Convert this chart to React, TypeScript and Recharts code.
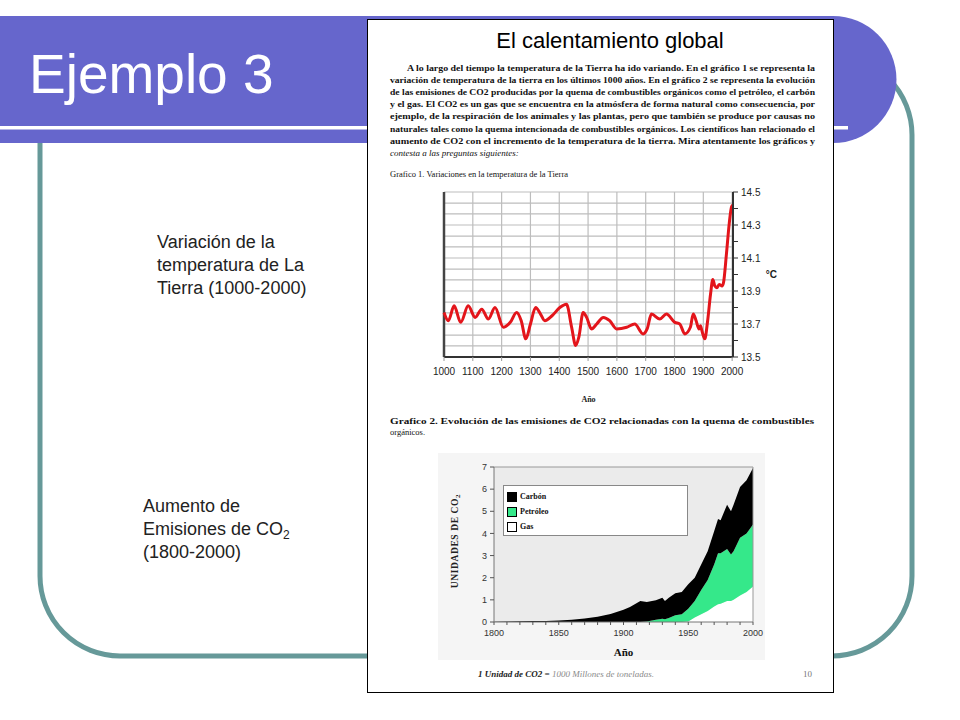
import {
  Area,
  AreaChart,
  CartesianGrid,
  Legend,
  Line,
  LineChart,
  ReferenceLine,
  XAxis,
  YAxis,
} from 'recharts'

// Gráfico 1: temperatura media (°C), 1000-2000
const TEMP_YEARS = [
  1000, 1015, 1035, 1058, 1084, 1108, 1131, 1154, 1177, 1206, 1230, 1252, 1268, 1284, 1300, 1318,
  1335, 1350, 1375, 1402, 1425, 1443, 1457, 1468, 1483, 1495, 1512, 1530, 1553, 1575, 1599, 1634,
  1662, 1691, 1705, 1720, 1749, 1772, 1801, 1818, 1836, 1855, 1865, 1875, 1885, 1890, 1895, 1905,
  1915, 1925, 1933, 1940, 1947, 1955, 1965, 1970, 1980, 1990, 1998, 2002,
]
const TEMP_VALUES = [
  13.77, 13.72, 13.81, 13.71, 13.81, 13.74, 13.79, 13.73, 13.8, 13.68, 13.71, 13.77, 13.72, 13.61,
  13.7, 13.8, 13.76, 13.72, 13.75, 13.8, 13.82, 13.68, 13.57, 13.62, 13.77, 13.74, 13.67, 13.7,
  13.74, 13.72, 13.67, 13.68, 13.7, 13.64, 13.67, 13.76, 13.73, 13.76, 13.71, 13.7, 13.64, 13.68,
  13.76, 13.72, 13.67, 13.69, 13.66, 13.61, 13.72, 13.88, 13.97, 13.93, 13.92, 13.94, 13.93, 13.95,
  14.12, 14.31, 14.41, 14.42,
]
const TEMP_X_TICKS = [1000, 1100, 1200, 1300, 1400, 1500, 1600, 1700, 1800, 1900, 2000]
const TEMP_Y_TICKS = [13.5, 13.6, 13.7, 13.8, 13.9, 14.0, 14.1, 14.2, 14.3, 14.4, 14.5]
const TEMP_GRID = [
  13.5, 13.567, 13.633, 13.7, 13.767, 13.833, 13.9, 13.967, 14.033, 14.1, 14.167, 14.233, 14.3,
  14.367, 14.433, 14.5,
]

// Gráfico 2: emisiones de CO2 por combustible (unidades = 1000 Mt)
const CO2_YEARS = [
  1800, 1810, 1820, 1830, 1840, 1850, 1860, 1870, 1880, 1890, 1900, 1905, 1910, 1913, 1918, 1920,
  1925, 1930, 1932, 1935, 1940, 1945, 1950, 1955, 1960, 1965, 1970, 1973, 1975, 1980, 1983, 1985,
  1990, 1995, 2000,
]
const CO2_CARBON = [
  0.01, 0.02, 0.03, 0.04, 0.05, 0.07, 0.1, 0.16, 0.24, 0.36, 0.55, 0.68, 0.85, 0.95, 0.88, 0.88,
  0.88, 0.95, 0.83, 0.92, 1.0, 1.0, 1.1, 1.05, 1.15, 1.3, 1.5, 1.55, 1.5, 2.0, 1.95, 2.1, 2.3, 2.4,
  2.55,
]
const CO2_PETROLEO = [
  0, 0, 0, 0, 0, 0, 0, 0, 0, 0, 0, 0, 0, 0, 0.02, 0.05, 0.1, 0.15, 0.12, 0.18, 0.3, 0.35, 0.58, 0.75,
  1.1, 1.4, 1.9, 2.3, 2.28, 2.35, 2.1, 2.2, 2.6, 2.65, 2.8,
]
const CO2_GAS = [
  0, 0, 0, 0, 0, 0, 0, 0, 0, 0, 0, 0, 0, 0, 0, 0, 0, 0, 0, 0, 0, 0, 0.02, 0.2, 0.35, 0.5, 0.7, 0.8,
  0.82, 0.95, 0.95, 1.0, 1.2, 1.35, 1.6,
]
const CO2_X_TICKS = [
  1800, 1810, 1820, 1830, 1840, 1850, 1860, 1870, 1880, 1890, 1900, 1910, 1920, 1930, 1940, 1950,
  1960, 1970, 1980, 1990, 2000,
]
const CO2_Y_TICKS = [0, 1, 2, 3, 4, 5, 6, 7]
const CO2_LEGEND = [
  { name: 'Carbón', color: '#000000' },
  { name: 'Petróleo', color: '#35e88a' },
  { name: 'Gas', color: '#ffffff' },
]

const BLUE = '#6666cc'
const TEAL = '#669999'
const SERIF = '"Liberation Serif", "DejaVu Serif", serif'
const SANS = '"Liberation Sans", Arial, sans-serif'

const BODY_LINES = [
  'A lo largo del tiempo la temperatura de la Tierra ha ido variando. En el gráfico 1 se representa la',
  'variación de temperatura de la tierra en los últimos 1000 años. En el gráfico 2 se representa la evolución',
  'de las emisiones de CO2 producidas por la quema de combustibles orgánicos como el petróleo, el carbón',
  'y el gas. El CO2 es un gas que se encuentra en la atmósfera de forma natural como consecuencia, por',
  'ejemplo, de la respiración de los animales y las plantas, pero que también se produce por causas no',
  'naturales tales como la quema intencionada de combustibles orgánicos. Los científicos han relacionado el',
  'aumento de CO2 con el incremento de la temperatura de la tierra. Mira atentamente los gráficos y',
]
const BODY_LAST = 'contesta a las preguntas siguientes:'

const tempData = TEMP_YEARS.map((year, i) => ({ year, temp: TEMP_VALUES[i] }))
const co2Data = CO2_YEARS.map((year, i) => ({
  year,
  gas: CO2_GAS[i],
  petroleo: CO2_PETROLEO[i],
  carbon: CO2_CARBON[i],
}))

function Co2Legend() {
  return (
    <div
      style={{
        width: 185,
        height: 51,
        background: '#fff',
        border: '1px solid #888',
        boxSizing: 'border-box',
        padding: '3px 0 0 3px',
        fontFamily: SERIF,
        fontWeight: 'bold',
        fontSize: 8,
        color: '#111',
      }}
    >
      {CO2_LEGEND.map((item) => (
        <div key={item.name} style={{ display: 'flex', alignItems: 'center', height: 15 }}>
          <span
            style={{
              width: 8,
              height: 8,
              background: item.color,
              border: '1px solid #000',
              marginRight: 3,
            }}
          />
          {item.name}
        </div>
      ))}
    </div>
  )
}

export default function App() {
  return (
    <div style={{ position: 'absolute', left: 0, top: 0, width: 960, height: 720, background: '#fff' }}>
      <svg width={960} height={720} style={{ position: 'absolute', left: 0, top: 0 }}>
        <rect x={40} y={55} width={872} height={601} rx={80} fill="none" stroke={TEAL} strokeWidth={5} />
        <path d="M0 16 H833 A63.5 63.5 0 0 1 833 143 H0 Z" fill={BLUE} />
        <rect x={0} y={126} width={848} height={3.5} fill="#fff" />
        <text x={29} y={93} fontSize={55} fill="#fff" fontFamily={SANS}>
          Ejemplo 3
        </text>

        <text fontFamily={SANS} fontSize={18} fill="#222">
          <tspan x={157} y={248}>Variación de la</tspan>
          <tspan x={157} y={271}>temperatura de La</tspan>
          <tspan x={157} y={294}>Tierra (1000-2000)</tspan>
          <tspan x={143} y={512}>Aumento de</tspan>
          <tspan x={143} y={535}>Emisiones de CO</tspan>
          <tspan fontSize={12} dy={4}>2</tspan>
          <tspan x={143} y={558}>(1800-2000)</tspan>
        </text>

        <rect x={367.5} y={19.5} width={466} height={673} fill="#fff" stroke="#000" />
        <text x={610} y={48} fontSize={22} fill="#000" fontFamily={SANS} textAnchor="middle">
          El calentamiento global
        </text>
        <g fontFamily={SERIF} fontSize={9} fontWeight="bold" fill="#111">
          {BODY_LINES.map((line, i) => (
            <text
              key={i}
              x={i === 0 ? 407 : 390}
              y={71 + i * 12.1}
              textLength={i === 0 ? 408 : 425}
              lengthAdjust="spacingAndGlyphs"
            >
              {line}
            </text>
          ))}
          <text x={390} y={156} fontStyle="italic" fontWeight="normal">
            {BODY_LAST}
          </text>
        </g>
        <g fontFamily={SERIF} fontSize={8.5} fill="#111">
          <text x={390} y={177}>Grafico 1. Variaciones en la temperatura de la Tierra</text>
          <text x={390} y={424} fontWeight="bold" textLength={424} lengthAdjust="spacingAndGlyphs">
            Grafico 2. Evolución de las emisiones de CO2 relacionadas con la quema de combustibles
          </text>
          <text x={390} y={435}>orgánicos.</text>
        </g>

        <rect x={438} y={453} width={327} height={207} fill="#f5f5f5" />
        <text
          x={458}
          y={541}
          transform="rotate(-90 458 541)"
          textAnchor="middle"
          fontFamily={SERIF}
          fontSize={9.5}
          fontWeight="bold"
          fill="#222"
          letterSpacing={0.6}
        >
          UNIDADES DE CO
          <tspan fontSize={7} dy={2}>2</tspan>
        </text>

        <text x={478} y={677} fontFamily={SERIF} fontSize={9} fontStyle="italic">
          <tspan fontWeight="bold" fill="#222">1 Unidad de CO2 = </tspan>
          <tspan fill="#8a8a8a">1000 Millones de toneladas.</tspan>
        </text>
        <text x={803} y={677} fontFamily={SERIF} fontSize={9} fill="#777">
          10
        </text>
      </svg>

      <div style={{ position: 'absolute', left: 380, top: 180 }}>
        <LineChart width={420} height={235} data={tempData} margin={{ top: 12, right: 17, left: 64, bottom: 13 }}>
          <CartesianGrid
            stroke="#bdbdbd"
            strokeWidth={1.2}
            horizontalValues={TEMP_GRID}
            verticalValues={TEMP_X_TICKS}
          />
          <XAxis
            type="number"
            dataKey="year"
            domain={[1000, 2003]}
            ticks={TEMP_X_TICKS}
            interval={0}
            height={45}
            tickMargin={7}
            tickSize={4}
            axisLine={{ stroke: '#333', strokeWidth: 2 }}
            tickLine={{ stroke: '#999' }}
            tick={{ fontSize: 10, fill: '#222', fontFamily: SANS }}
            label={{ value: 'Año', position: 'insideBottom', offset: 0, fontSize: 8, fontWeight: 'bold', fontFamily: SERIF, fill: '#222' }}
          />
          <YAxis
            orientation="right"
            type="number"
            domain={[13.5, 14.5]}
            ticks={TEMP_Y_TICKS}
            interval={0}
            width={50}
            tickSize={5}
            tickMargin={3}
            axisLine={{ stroke: '#333', strokeWidth: 2 }}
            tickLine={{ stroke: '#333' }}
            tick={{ fontSize: 10, fill: '#222', fontFamily: SANS }}
            tickFormatter={(v: number) => (Math.round(v * 10) % 2 === 1 ? v.toFixed(1) : '')}
            label={{ value: '°C', position: 'insideRight', offset: 6, fontSize: 10, fontWeight: 'bold', fontFamily: SANS, fill: '#222' }}
          />
          <ReferenceLine x={1000} stroke="#444" strokeWidth={2.5} />
          <Line
            type="monotone"
            dataKey="temp"
            stroke="#e3151b"
            strokeWidth={3}
            dot={false}
            isAnimationActive={false}
          />
        </LineChart>
      </div>

      <div style={{ position: 'absolute', left: 438, top: 453 }}>
        <AreaChart width={330} height={215} data={co2Data} margin={{ top: 14, right: 15, left: 16, bottom: 10 }}>
          <CartesianGrid fill="#ebebeb" horizontal={false} vertical={false} />
          <XAxis
            type="number"
            dataKey="year"
            domain={[1800, 2000]}
            ticks={CO2_X_TICKS}
            interval={0}
            height={36}
            tickSize={3}
            tickMargin={5}
            axisLine={{ stroke: '#777' }}
            tickLine={{ stroke: '#555' }}
            tick={{ fontSize: 9, fill: '#333', fontFamily: SANS }}
            tickFormatter={(v: number) => (v % 50 === 0 ? String(v) : '')}
            label={{ value: 'Año', position: 'insideBottom', offset: 2, fontSize: 11, fontWeight: 'bold', fontFamily: SERIF, fill: '#111' }}
          />
          <YAxis
            type="number"
            domain={[0, 7]}
            ticks={CO2_Y_TICKS}
            interval={0}
            width={40}
            tickSize={4}
            tickMargin={3}
            axisLine={{ stroke: '#777' }}
            tickLine={{ stroke: '#555' }}
            tick={{ fontSize: 9, fill: '#333', fontFamily: SANS }}
          />
          <ReferenceLine y={7} stroke="#999" />
          <ReferenceLine x={2000} stroke="#999" />
          <Area
            type="linear"
            dataKey="gas"
            stackId="co2"
            stroke="none"
            fill="#ffffff"
            fillOpacity={1}
            isAnimationActive={false}
          />
          <Area
            type="linear"
            dataKey="petroleo"
            stackId="co2"
            stroke="none"
            fill="#35e88a"
            fillOpacity={1}
            isAnimationActive={false}
          />
          <Area
            type="linear"
            dataKey="carbon"
            stackId="co2"
            stroke="none"
            fill="#000000"
            fillOpacity={1}
            isAnimationActive={false}
          />
          <Legend
            layout="vertical"
            align="center"
            verticalAlign="middle"
            content={() => <Co2Legend />}
            wrapperStyle={{ left: 65, top: 32, width: 185 }}
          />
        </AreaChart>
      </div>
    </div>
  )
}
